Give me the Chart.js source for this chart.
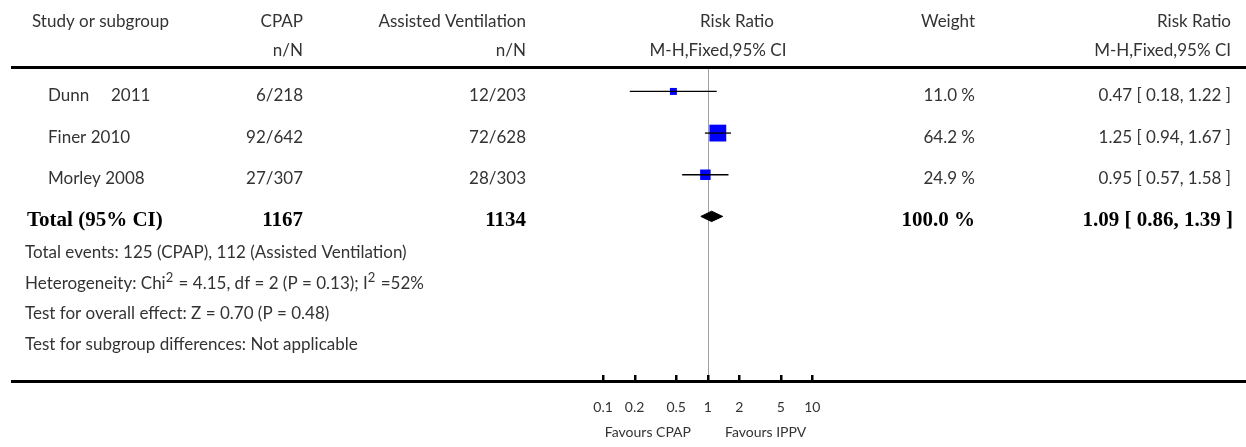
<!DOCTYPE html>
<html><head><meta charset="utf-8">
<script src="https://cdn.jsdelivr.net/npm/chart.js@4.4.0/dist/chart.umd.min.js"></script>
<style>html,body{margin:0;padding:0;background:#fff;}canvas{display:block;}</style>
</head><body>
<canvas id="c" width="1246" height="447"></canvas>
<script>
// ---- data ----
const headerRow1 = ['Study or subgroup', 'CPAP', 'Assisted Ventilation', 'Risk Ratio', 'Weight', 'Risk Ratio'];
const headerRow2 = ['', 'n/N', 'n/N', 'M-H,Fixed,95% CI', '', 'M-H,Fixed,95% CI'];
const studies = ['Dunn     2011', 'Finer 2010', 'Morley 2008'];
const cpapEvents = ['6/218', '92/642', '27/307'];
const avEvents = ['12/203', '72/628', '28/303'];
const weights = [11.0, 64.2, 24.9];
const riskRatio = [0.47, 1.25, 0.95];
const ciLow = [0.18, 0.94, 0.57];
const ciHigh = [1.22, 1.67, 1.58];
const totalLabel = 'Total (95% CI)';
const totalCpap = 1167;
const totalAv = 1134;
const totalWeight = 100.0;
const totalRR = [1.09];
const totalLow = [0.86];
const totalHigh = [1.39];
const footnotes = [
  'Total events: 125 (CPAP), 112 (Assisted Ventilation)',
  'Heterogeneity: Chi^2 = 4.15, df = 2 (P = 0.13); I^2 =52%',
  'Test for overall effect: Z = 0.70 (P = 0.48)',
  'Test for subgroup differences: Not applicable'
];
const axisTicks = [0.1, 0.2, 0.5, 1, 2, 5, 10];
const axisTickLabels = ['0.1', '0.2', '0.5', '1', '2', '5', '10'];
const favourLeft = 'Favours CPAP';
const favourRight = 'Favours IPPV';

// ---- layout / style ----
const FONT = 'Lato, "Open Sans", sans-serif';
const TXT = '#333333';
const SZ = 17;
const DECADE = 106.65, X01 = 602.7, W = 1246, H = 447;
const ROW0 = 84, ROWH = 44;
const nRows = studies.length;

const datasets = [];
studies.forEach((s, i) => {
  datasets.push({
    type: 'scatter', showLine: true,
    data: [{x: ciLow[i], y: i}, {x: ciHigh[i], y: i}],
    borderColor: '#000', borderWidth: 1.3, pointRadius: 0, order: 1
  });
});
datasets.push({
  type: 'scatter',
  data: riskRatio.map((v, i) => ({x: v, y: i})),
  pointStyle: 'rect',
  pointRadius: weights.map(w => 2.1 * Math.sqrt(w) / Math.SQRT2),
  backgroundColor: '#0000ff', borderWidth: 0, order: 2
});
const dh = 5.5 / ROWH;
datasets.push({
  type: 'scatter', showLine: true,
  data: [
    {x: totalLow[0], y: nRows}, {x: totalRR[0], y: nRows - dh},
    {x: totalHigh[0], y: nRows}, {x: totalRR[0], y: nRows + dh},
    {x: totalLow[0], y: nRows}
  ],
  borderColor: '#000', backgroundColor: '#000', borderWidth: 1,
  fill: 'shape', pointRadius: 0, order: 0
});

function richText(ctx, str, x, y, size) {
  const parts = str.split(/\^(\d)/);
  let cx = x;
  parts.forEach((p, k) => {
    if (k % 2 === 1) {
      ctx.font = `${Math.round(size * 0.75)}px ${FONT}`;
      ctx.fillText(p, cx, y - size * 0.33);
      cx += ctx.measureText(p).width + 1;
    } else {
      ctx.font = `${size}px ${FONT}`;
      ctx.fillText(p, cx, y);
      cx += ctx.measureText(p).width;
    }
  });
}

const forestPlugin = {
  id: 'forest',
  beforeDatasetsDraw(chart) {
    const ctx = chart.ctx, xs = chart.scales.x;
    const x1 = Math.round(xs.getPixelForValue(1)) + 0.5;
    ctx.save();
    ctx.strokeStyle = '#a0a0a0'; ctx.lineWidth = 1;
    ctx.beginPath(); ctx.moveTo(x1, 67); ctx.lineTo(x1, 381); ctx.stroke();
    ctx.restore();
  },
  afterDatasetsDraw(chart) {
    const ctx = chart.ctx, xs = chart.scales.x, ys = chart.scales.y;
    ctx.save();
    // rules
    ctx.fillStyle = '#000';
    ctx.fillRect(11, 66, W - 11, 3);
    ctx.fillRect(11, 380, W - 11, 3);
    axisTicks.forEach(t => {
      const px = xs.getPixelForValue(t);
      ctx.fillRect(Math.round(px) - 1, 375, 2.5, 6);
    });
    ctx.fillStyle = TXT;
    ctx.textBaseline = 'middle';
    ctx.font = `${SZ}px ${FONT}`;
    const colRight = [null, 303, 526, null, 975, 1231];
    // header rows
    headerRow1.forEach((t, c) => {
      if (!t) return;
      if (c === 0) { ctx.textAlign = 'left'; ctx.fillText(t, 32, 22); }
      else if (c === 3) { ctx.textAlign = 'center'; ctx.fillText(t, 737, 22); }
      else { ctx.textAlign = 'right'; ctx.fillText(t, colRight[c], 22); }
    });
    headerRow2.forEach((t, c) => {
      if (!t) return;
      if (c === 3) { ctx.textAlign = 'center'; ctx.fillText(t, 718, 51); }
      else { ctx.textAlign = 'right'; ctx.fillText(t, colRight[c], 51); }
    });
    // study rows
    studies.forEach((s, i) => {
      const y = ys.getPixelForValue(i) + 4;
      ctx.textAlign = 'left'; ctx.fillText(s, 48, y);
      ctx.textAlign = 'right';
      ctx.fillText(cpapEvents[i], 303, y);
      ctx.fillText(avEvents[i], 526, y);
      ctx.fillText(weights[i].toFixed(1) + ' %', 975, y);
      ctx.fillText(`${riskRatio[i].toFixed(2)} [ ${ciLow[i].toFixed(2)}, ${ciHigh[i].toFixed(2)} ]`, 1231, y);
    });
    // total row
    const yt = ys.getPixelForValue(nRows) + 4;
    ctx.font = `bold 21px "Liberation Serif", serif`;
    ctx.fillStyle = '#000';
    ctx.textAlign = 'left'; ctx.fillText(totalLabel, 27, yt);
    ctx.textAlign = 'right';
    ctx.fillText(String(totalCpap), 303, yt);
    ctx.fillText(String(totalAv), 526, yt);
    ctx.fillText(totalWeight.toFixed(1) + ' %', 975, yt);
    ctx.fillText(`${totalRR[0].toFixed(2)} [ ${totalLow[0].toFixed(2)}, ${totalHigh[0].toFixed(2)} ]`, 1233, yt);
    // footnotes
    ctx.fillStyle = TXT; ctx.textAlign = 'left';
    footnotes.forEach((f, k) => richText(ctx, f, 25, 253 + k * 30.5, SZ));
    // axis labels
    ctx.font = `14px ${FONT}`;
    ctx.textAlign = 'center';
    axisTicks.forEach((t, k) => ctx.fillText(axisTickLabels[k], xs.getPixelForValue(t), 407));
    ctx.textAlign = 'right'; ctx.fillText(favourLeft, 691, 432);
    ctx.textAlign = 'left'; ctx.fillText(favourRight, 725, 432);
    ctx.restore();
  }
};

new Chart(document.getElementById('c'), {
  type: 'scatter',
  data: { datasets },
  options: {
    responsive: false, animation: false, devicePixelRatio: 1,
    layout: { padding: 0 },
    plugins: { legend: { display: false }, tooltip: { enabled: false }, title: { display: false } },
    scales: {
      x: { type: 'logarithmic', display: false, bounds: 'data',
           min: Math.pow(10, -1 - X01 / DECADE), max: Math.pow(10, -1 + (W - X01) / DECADE) },
      y: { type: 'linear', display: false, reverse: true,
           min: -ROW0 / ROWH, max: (H - ROW0) / ROWH }
    }
  },
  plugins: [forestPlugin]
});
</script>
</body></html>
